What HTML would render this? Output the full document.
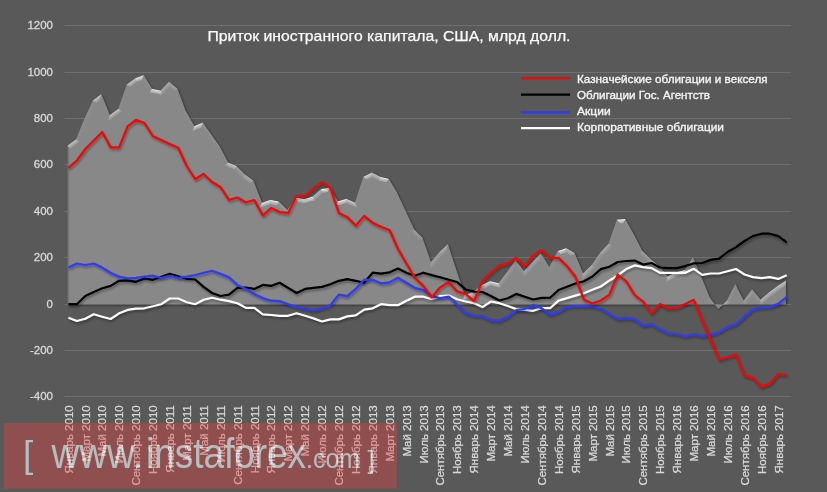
<!DOCTYPE html>
<html><head><meta charset="utf-8"><style>
html,body{margin:0;padding:0;background:#595959;width:827px;height:492px;overflow:hidden}
svg{display:block;font-family:"Liberation Sans",sans-serif;will-change:transform}
</style></head><body>
<svg width="827" height="492" viewBox="0 0 827 492">
<defs><filter id="ashadow" x="-5%" y="-10%" width="110%" height="125%" color-interpolation-filters="sRGB">
  <feGaussianBlur in="SourceAlpha" stdDeviation="1.3"/>
  <feOffset dx="1" dy="1.2" result="ob"/>
  <feFlood flood-color="#000" flood-opacity="0.45"/>
  <feComposite in2="ob" operator="in" result="sh"/>
  <feMerge><feMergeNode in="sh"/><feMergeNode in="SourceGraphic"/></feMerge>
</filter>
<filter id="soft" x="-5%" y="-10%" width="110%" height="125%">
  <feGaussianBlur stdDeviation="0.55"/>
</filter>
<filter id="lshadow" x="-5%" y="-20%" width="110%" height="140%" color-interpolation-filters="sRGB">
  <feGaussianBlur in="SourceAlpha" stdDeviation="1.2"/>
  <feOffset dx="0.8" dy="1.5" result="ob"/>
  <feFlood flood-color="#000" flood-opacity="0.35"/>
  <feComposite in2="ob" operator="in" result="sh"/>
  <feMerge><feMergeNode in="sh"/><feMergeNode in="SourceGraphic"/></feMerge>
</filter>
<filter id="thin" x="-2%" y="-10%" width="104%" height="120%">
  <feMorphology operator="erode" radius="0.4"/>
</filter>
</defs>
<rect width="827" height="492" fill="#595959"/>
<line x1="64.5" x2="791" y1="25.5" y2="25.5" stroke="#707070" stroke-width="1"/>
<line x1="64.5" x2="791" y1="72.5" y2="72.5" stroke="#707070" stroke-width="1"/>
<line x1="64.5" x2="791" y1="118.5" y2="118.5" stroke="#707070" stroke-width="1"/>
<line x1="64.5" x2="791" y1="164.5" y2="164.5" stroke="#707070" stroke-width="1"/>
<line x1="64.5" x2="791" y1="211.5" y2="211.5" stroke="#707070" stroke-width="1"/>
<line x1="64.5" x2="791" y1="257.5" y2="257.5" stroke="#707070" stroke-width="1"/>
<line x1="64.5" x2="791" y1="304.5" y2="304.5" stroke="#707070" stroke-width="1"/>
<line x1="64.5" x2="791" y1="350.5" y2="350.5" stroke="#707070" stroke-width="1"/>
<line x1="64.5" x2="791" y1="396.5" y2="396.5" stroke="#707070" stroke-width="1"/>
<g filter="url(#ashadow)"><polygon points="67.60,304.40 67.60,145.40 76.05,139.30 84.50,118.50 92.95,100.20 101.40,94.10 109.86,114.90 118.31,108.80 126.76,84.40 135.21,78.30 143.66,75.10 152.11,88.80 160.56,90.50 169.01,81.50 177.46,88.80 185.91,111.20 194.37,126.00 202.82,122.50 211.27,134.40 219.72,146.60 228.17,162.40 236.62,166.10 245.07,174.60 253.52,180.70 261.97,202.70 270.42,199.80 278.88,201.50 287.33,210.00 295.78,197.50 304.23,199.00 312.68,196.60 321.13,189.00 329.58,187.80 338.03,201.20 346.48,198.80 354.93,202.40 363.39,176.80 371.84,172.40 380.29,176.80 388.74,178.80 397.19,192.70 405.64,211.00 414.09,229.30 422.54,237.80 430.99,262.00 439.44,252.00 447.90,244.00 456.35,270.00 464.80,295.00 473.25,292.00 481.70,285.00 490.15,281.00 498.60,283.00 507.05,272.00 515.50,260.00 523.95,271.00 532.41,262.00 540.86,253.00 549.31,267.00 557.76,251.00 566.21,248.00 574.66,253.00 583.11,273.20 591.56,265.00 600.01,252.80 608.46,243.70 616.92,219.50 625.37,219.00 633.82,234.60 642.27,250.80 650.72,259.00 659.17,266.10 667.62,276.20 676.07,272.20 684.52,270.10 692.97,257.20 701.43,277.00 709.88,297.80 718.33,309.00 726.78,300.50 735.23,284.00 743.68,300.50 752.13,289.20 760.58,299.60 769.03,292.30 777.48,285.90 785.94,280.40 785.94,304.40" fill="#888888"/></g>
<clipPath id="aclip"><polygon points="67.60,304.40 67.60,145.40 76.05,139.30 84.50,118.50 92.95,100.20 101.40,94.10 109.86,114.90 118.31,108.80 126.76,84.40 135.21,78.30 143.66,75.10 152.11,88.80 160.56,90.50 169.01,81.50 177.46,88.80 185.91,111.20 194.37,126.00 202.82,122.50 211.27,134.40 219.72,146.60 228.17,162.40 236.62,166.10 245.07,174.60 253.52,180.70 261.97,202.70 270.42,199.80 278.88,201.50 287.33,210.00 295.78,197.50 304.23,199.00 312.68,196.60 321.13,189.00 329.58,187.80 338.03,201.20 346.48,198.80 354.93,202.40 363.39,176.80 371.84,172.40 380.29,176.80 388.74,178.80 397.19,192.70 405.64,211.00 414.09,229.30 422.54,237.80 430.99,262.00 439.44,252.00 447.90,244.00 456.35,270.00 464.80,295.00 473.25,292.00 481.70,285.00 490.15,281.00 498.60,283.00 507.05,272.00 515.50,260.00 523.95,271.00 532.41,262.00 540.86,253.00 549.31,267.00 557.76,251.00 566.21,248.00 574.66,253.00 583.11,273.20 591.56,265.00 600.01,252.80 608.46,243.70 616.92,219.50 625.37,219.00 633.82,234.60 642.27,250.80 650.72,259.00 659.17,266.10 667.62,276.20 676.07,272.20 684.52,270.10 692.97,257.20 701.43,277.00 709.88,297.80 718.33,309.00 726.78,300.50 735.23,284.00 743.68,300.50 752.13,289.20 760.58,299.60 769.03,292.30 777.48,285.90 785.94,280.40 785.94,304.40"/></clipPath>
<g clip-path="url(#aclip)" filter="url(#soft)"><polygon points="67.60,145.40 76.05,139.30 77.14,140.16 68.38,146.48" fill="rgba(255,255,255,0.455)"/><polygon points="76.05,139.30 84.50,118.50 85.73,119.03 77.14,140.16" fill="rgba(255,255,255,0.035)"/><polygon points="84.50,118.50 92.95,100.20 94.02,101.08 85.73,119.03" fill="rgba(255,255,255,0.049)"/><polygon points="92.95,100.20 101.40,94.10 100.81,96.17 94.02,101.08" fill="rgba(255,255,255,0.455)"/><polygon points="109.86,114.90 118.31,108.80 119.43,109.63 109.26,116.97" fill="rgba(255,255,255,0.455)"/><polygon points="118.31,108.80 126.76,84.40 127.88,85.23 119.43,109.63" fill="rgba(255,255,255,0.022)"/><polygon points="126.76,84.40 135.21,78.30 135.85,79.48 127.88,85.23" fill="rgba(255,255,255,0.455)"/><polygon points="135.21,78.30 143.66,75.10 143.10,76.74 135.85,79.48" fill="rgba(255,255,255,0.724)"/><polygon points="143.66,75.10 152.11,88.80 151.28,89.99 143.10,76.74" fill="rgba(255,255,255,0.037)"/><polygon points="152.11,88.80 160.56,90.50 161.03,91.95 151.28,89.99" fill="rgba(255,255,255,0.727)"/><polygon points="160.56,90.50 169.01,81.50 169.11,83.35 161.03,91.95" fill="rgba(255,255,255,0.256)"/><polygon points="169.01,81.50 177.46,88.80 176.34,89.59 169.11,83.35" fill="rgba(255,255,255,0.207)"/><polygon points="185.91,111.20 194.37,126.00 193.79,127.68 184.70,111.77" fill="rgba(255,255,255,0.028)"/><polygon points="194.37,126.00 202.82,122.50 202.34,124.14 193.79,127.68" fill="rgba(255,255,255,0.697)"/><polygon points="202.82,122.50 211.27,134.40 210.18,135.17 202.34,124.14" fill="rgba(255,255,255,0.058)"/><polygon points="211.27,134.40 219.72,146.60 218.58,147.30 210.18,135.17" fill="rgba(255,255,255,0.054)"/><polygon points="219.72,146.60 228.17,162.40 227.21,163.44 218.58,147.30" fill="rgba(255,255,255,0.022)"/><polygon points="228.17,162.40 236.62,166.10 235.85,167.22 227.21,163.44" fill="rgba(255,255,255,0.513)"/><polygon points="236.62,166.10 245.07,174.60 244.20,175.62 235.85,167.22" fill="rgba(255,255,255,0.148)"/><polygon points="245.07,174.60 253.52,180.70 252.42,181.55 244.20,175.62" fill="rgba(255,255,255,0.286)"/><polygon points="261.97,202.70 270.42,199.80 270.52,201.18 261.19,204.38" fill="rgba(255,255,255,0.749)"/><polygon points="270.42,199.80 278.88,201.50 278.22,202.73 270.52,201.18" fill="rgba(255,255,255,0.727)"/><polygon points="278.88,201.50 287.33,210.00 287.52,212.09 278.22,202.73" fill="rgba(255,255,255,0.148)"/><polygon points="287.33,210.00 295.78,197.50 296.40,198.96 287.52,212.09" fill="rgba(255,255,255,0.129)"/><polygon points="295.78,197.50 304.23,199.00 304.30,200.37 296.40,198.96" fill="rgba(255,255,255,0.745)"/><polygon points="304.23,199.00 312.68,196.60 313.34,197.80 304.30,200.37" fill="rgba(255,255,255,0.787)"/><polygon points="312.68,196.60 321.13,189.00 321.72,190.26 313.34,197.80" fill="rgba(255,255,255,0.339)"/><polygon points="321.13,189.00 329.58,187.80 328.91,189.24 321.72,190.26" fill="rgba(255,255,255,0.844)"/><polygon points="329.58,187.80 338.03,201.20 337.44,202.76 328.91,189.24" fill="rgba(255,255,255,0.039)"/><polygon points="338.03,201.20 346.48,198.80 346.39,200.21 337.44,202.76" fill="rgba(255,255,255,0.787)"/><polygon points="346.48,198.80 354.93,202.40 355.75,204.19 346.39,200.21" fill="rgba(255,255,255,0.524)"/><polygon points="354.93,202.40 363.39,176.80 364.48,177.73 355.75,204.19" fill="rgba(255,255,255,0.019)"/><polygon points="363.39,176.80 371.84,172.40 371.84,173.90 364.48,177.73" fill="rgba(255,255,255,0.612)"/><polygon points="371.84,172.40 380.29,176.80 379.82,178.06 371.84,173.90" fill="rgba(255,255,255,0.438)"/><polygon points="380.29,176.80 388.74,178.80 387.89,179.97 379.82,178.06" fill="rgba(255,255,255,0.698)"/><polygon points="388.74,178.80 397.19,192.70 396.01,193.33 387.89,179.97" fill="rgba(255,255,255,0.035)"/><polygon points="397.19,192.70 405.64,211.00 404.43,211.56 396.01,193.33" fill="rgba(255,255,255,0.012)"/><polygon points="405.64,211.00 414.09,229.30 412.98,230.07 404.43,211.56" fill="rgba(255,255,255,0.012)"/><polygon points="414.09,229.30 422.54,237.80 421.38,238.53 412.98,230.07" fill="rgba(255,255,255,0.148)"/><polygon points="430.99,262.00 439.44,252.00 440.41,252.92 430.51,264.60" fill="rgba(255,255,255,0.210)"/><polygon points="439.44,252.00 447.90,244.00 447.28,246.42 440.41,252.92" fill="rgba(255,255,255,0.313)"/><polygon points="464.80,295.00 473.25,292.00 473.92,293.18 463.97,296.71" fill="rgba(255,255,255,0.741)"/><polygon points="473.25,292.00 481.70,285.00 482.42,286.13 473.92,293.18" fill="rgba(255,255,255,0.382)"/><polygon points="481.70,285.00 490.15,281.00 490.30,282.41 482.42,286.13" fill="rgba(255,255,255,0.651)"/><polygon points="490.15,281.00 498.60,283.00 499.13,284.50 490.30,282.41" fill="rgba(255,255,255,0.698)"/><polygon points="498.60,283.00 507.05,272.00 508.13,272.79 499.13,284.50" fill="rgba(255,255,255,0.172)"/><polygon points="507.05,272.00 515.50,260.00 515.55,262.25 508.13,272.79" fill="rgba(255,255,255,0.142)"/><polygon points="515.50,260.00 523.95,271.00 523.85,273.06 515.55,262.25" fill="rgba(255,255,255,0.074)"/><polygon points="523.95,271.00 532.41,262.00 533.38,262.91 523.85,273.06" fill="rgba(255,255,255,0.256)"/><polygon points="532.41,262.00 540.86,253.00 540.62,255.20 533.38,262.91" fill="rgba(255,255,255,0.256)"/><polygon points="540.86,253.00 549.31,267.00 549.38,269.62 540.62,255.20" fill="rgba(255,255,255,0.034)"/><polygon points="549.31,267.00 557.76,251.00 558.69,252.08 549.38,269.62" fill="rgba(255,255,255,0.070)"/><polygon points="557.76,251.00 566.21,248.00 566.07,249.47 558.69,252.08" fill="rgba(255,255,255,0.741)"/><polygon points="566.21,248.00 574.66,253.00 573.60,253.92 566.07,249.47" fill="rgba(255,255,255,0.379)"/><polygon points="583.11,273.20 591.56,265.00 592.58,265.87 582.64,275.52" fill="rgba(255,255,255,0.301)"/><polygon points="591.56,265.00 600.01,252.80 601.05,253.64 592.58,265.87" fill="rgba(255,255,255,0.137)"/><polygon points="600.01,252.80 608.46,243.70 609.63,244.40 601.05,253.64" fill="rgba(255,255,255,0.251)"/><polygon points="608.46,243.70 616.92,219.50 617.88,220.78 609.63,244.40" fill="rgba(255,255,255,0.023)"/><polygon points="616.92,219.50 625.37,219.00 624.60,220.38 617.88,220.78" fill="rgba(255,255,255,0.850)"/><polygon points="625.37,219.00 633.82,234.60 632.64,235.23 624.60,220.38" fill="rgba(255,255,255,0.023)"/><polygon points="633.82,234.60 642.27,250.80 641.19,251.61 632.64,235.23" fill="rgba(255,255,255,0.020)"/><polygon points="642.27,250.80 650.72,259.00 649.82,259.99 641.19,251.61" fill="rgba(255,255,255,0.161)"/><polygon points="650.72,259.00 659.17,266.10 658.22,267.05 649.82,259.99" fill="rgba(255,255,255,0.218)"/><polygon points="659.17,266.10 667.62,276.20 667.26,277.85 658.22,267.05" fill="rgba(255,255,255,0.095)"/><polygon points="667.62,276.20 676.07,272.20 676.52,273.46 667.26,277.85" fill="rgba(255,255,255,0.651)"/><polygon points="676.07,272.20 684.52,270.10 685.35,271.27 676.52,273.46" fill="rgba(255,255,255,0.806)"/><polygon points="684.52,270.10 692.97,257.20 692.75,259.71 685.35,271.27" fill="rgba(255,255,255,0.120)"/><polygon points="709.88,297.80 718.33,309.00 718.19,311.03 708.71,298.46" fill="rgba(255,255,255,0.071)"/><polygon points="718.33,309.00 726.78,300.50 727.87,301.29 718.19,311.03" fill="rgba(255,255,255,0.283)"/><polygon points="726.78,300.50 735.23,284.00 735.23,286.43 727.87,301.29" fill="rgba(255,255,255,0.065)"/><polygon points="735.23,284.00 743.68,300.50 743.47,303.01 735.23,286.43" fill="rgba(255,255,255,0.018)"/><polygon points="743.68,300.50 752.13,289.20 752.17,291.37 743.47,303.01" fill="rgba(255,255,255,0.162)"/><polygon points="752.13,289.20 760.58,299.60 760.41,301.51 752.17,291.37" fill="rgba(255,255,255,0.088)"/><polygon points="760.58,299.60 769.03,292.30 769.87,293.34 760.41,301.51" fill="rgba(255,255,255,0.360)"/><polygon points="769.03,292.30 777.48,285.90 778.25,286.99 769.87,293.34" fill="rgba(255,255,255,0.429)"/><polygon points="777.48,285.90 785.94,280.40 786.66,281.52 778.25,286.99" fill="rgba(255,255,255,0.508)"/><polygon points="68.38,146.48 77.14,140.16 78.23,141.01 69.16,147.56" fill="rgba(255,255,255,0.321)"/><polygon points="77.14,140.16 85.73,119.03 86.95,119.56 78.23,141.01" fill="rgba(255,255,255,0.024)"/><polygon points="85.73,119.03 94.02,101.08 95.08,101.95 86.95,119.56" fill="rgba(255,255,255,0.035)"/><polygon points="94.02,101.08 100.81,96.17 100.21,98.25 95.08,101.95" fill="rgba(255,255,255,0.321)"/><polygon points="109.26,116.97 119.43,109.63 120.55,110.47 108.66,119.05" fill="rgba(255,255,255,0.321)"/><polygon points="119.43,109.63 127.88,85.23 129.00,86.07 120.55,110.47" fill="rgba(255,255,255,0.016)"/><polygon points="127.88,85.23 135.85,79.48 136.48,80.67 129.00,86.07" fill="rgba(255,255,255,0.321)"/><polygon points="135.85,79.48 143.10,76.74 142.54,78.37 136.48,80.67" fill="rgba(255,255,255,0.511)"/><polygon points="143.10,76.74 151.28,89.99 150.45,91.19 142.54,78.37" fill="rgba(255,255,255,0.026)"/><polygon points="151.28,89.99 161.03,91.95 161.49,93.41 150.45,91.19" fill="rgba(255,255,255,0.513)"/><polygon points="161.03,91.95 169.11,83.35 169.20,85.19 161.49,93.41" fill="rgba(255,255,255,0.181)"/><polygon points="169.11,83.35 176.34,89.59 175.21,90.38 169.20,85.19" fill="rgba(255,255,255,0.146)"/><polygon points="184.70,111.77 193.79,127.68 193.21,129.36 183.49,112.34" fill="rgba(255,255,255,0.020)"/><polygon points="193.79,127.68 202.34,124.14 201.87,125.78 193.21,129.36" fill="rgba(255,255,255,0.492)"/><polygon points="202.34,124.14 210.18,135.17 209.08,135.93 201.87,125.78" fill="rgba(255,255,255,0.041)"/><polygon points="210.18,135.17 218.58,147.30 217.44,147.99 209.08,135.93" fill="rgba(255,255,255,0.038)"/><polygon points="218.58,147.30 227.21,163.44 226.25,164.47 217.44,147.99" fill="rgba(255,255,255,0.015)"/><polygon points="227.21,163.44 235.85,167.22 235.09,168.34 226.25,164.47" fill="rgba(255,255,255,0.362)"/><polygon points="235.85,167.22 244.20,175.62 243.33,176.63 235.09,168.34" fill="rgba(255,255,255,0.105)"/><polygon points="244.20,175.62 252.42,181.55 251.32,182.40 243.33,176.63" fill="rgba(255,255,255,0.202)"/><polygon points="261.19,204.38 270.52,201.18 270.61,202.56 260.41,206.06" fill="rgba(255,255,255,0.529)"/><polygon points="270.52,201.18 278.22,202.73 277.56,203.95 270.61,202.56" fill="rgba(255,255,255,0.513)"/><polygon points="278.22,202.73 287.52,212.09 287.72,214.18 277.56,203.95" fill="rgba(255,255,255,0.105)"/><polygon points="287.52,212.09 296.40,198.96 297.02,200.43 287.72,214.18" fill="rgba(255,255,255,0.091)"/><polygon points="296.40,198.96 304.30,200.37 304.37,201.73 297.02,200.43" fill="rgba(255,255,255,0.526)"/><polygon points="304.30,200.37 313.34,197.80 314.00,199.00 304.37,201.73" fill="rgba(255,255,255,0.556)"/><polygon points="313.34,197.80 321.72,190.26 322.31,191.53 314.00,199.00" fill="rgba(255,255,255,0.239)"/><polygon points="321.72,190.26 328.91,189.24 328.25,190.68 322.31,191.53" fill="rgba(255,255,255,0.596)"/><polygon points="328.91,189.24 337.44,202.76 336.84,204.31 328.25,190.68" fill="rgba(255,255,255,0.028)"/><polygon points="337.44,202.76 346.39,200.21 346.30,201.62 336.84,204.31" fill="rgba(255,255,255,0.556)"/><polygon points="346.39,200.21 355.75,204.19 356.56,205.99 346.30,201.62" fill="rgba(255,255,255,0.370)"/><polygon points="355.75,204.19 364.48,177.73 365.58,178.66 356.56,205.99" fill="rgba(255,255,255,0.014)"/><polygon points="364.48,177.73 371.84,173.90 371.84,175.41 365.58,178.66" fill="rgba(255,255,255,0.432)"/><polygon points="371.84,173.90 379.82,178.06 379.35,179.32 371.84,175.41" fill="rgba(255,255,255,0.309)"/><polygon points="379.82,178.06 387.89,179.97 387.04,181.14 379.35,179.32" fill="rgba(255,255,255,0.492)"/><polygon points="387.89,179.97 396.01,193.33 394.83,193.96 387.04,181.14" fill="rgba(255,255,255,0.025)"/><polygon points="412.98,230.07 421.38,238.53 420.22,239.25 411.87,230.85" fill="rgba(255,255,255,0.105)"/><polygon points="430.51,264.60 440.41,252.92 441.38,253.83 430.03,267.20" fill="rgba(255,255,255,0.148)"/><polygon points="440.41,252.92 447.28,246.42 446.66,248.84 441.38,253.83" fill="rgba(255,255,255,0.221)"/><polygon points="463.97,296.71 473.92,293.18 474.59,294.35 463.14,298.42" fill="rgba(255,255,255,0.523)"/><polygon points="473.92,293.18 482.42,286.13 483.14,287.27 474.59,294.35" fill="rgba(255,255,255,0.270)"/><polygon points="482.42,286.13 490.30,282.41 490.45,283.81 483.14,287.27" fill="rgba(255,255,255,0.459)"/><polygon points="490.30,282.41 499.13,284.50 499.67,285.99 490.45,283.81" fill="rgba(255,255,255,0.492)"/><polygon points="499.13,284.50 508.13,272.79 509.20,273.58 499.67,285.99" fill="rgba(255,255,255,0.122)"/><polygon points="508.13,272.79 515.55,262.25 515.60,264.50 509.20,273.58" fill="rgba(255,255,255,0.100)"/><polygon points="515.55,262.25 523.85,273.06 523.75,275.11 515.60,264.50" fill="rgba(255,255,255,0.053)"/><polygon points="523.85,273.06 533.38,262.91 534.35,263.83 523.75,275.11" fill="rgba(255,255,255,0.181)"/><polygon points="533.38,262.91 540.62,255.20 540.39,257.39 534.35,263.83" fill="rgba(255,255,255,0.181)"/><polygon points="540.62,255.20 549.38,269.62 549.46,272.25 540.39,257.39" fill="rgba(255,255,255,0.024)"/><polygon points="549.38,269.62 558.69,252.08 559.63,253.17 549.46,272.25" fill="rgba(255,255,255,0.050)"/><polygon points="558.69,252.08 566.07,249.47 565.93,250.93 559.63,253.17" fill="rgba(255,255,255,0.523)"/><polygon points="566.07,249.47 573.60,253.92 572.54,254.84 565.93,250.93" fill="rgba(255,255,255,0.268)"/><polygon points="582.64,275.52 592.58,265.87 593.61,266.73 582.16,277.84" fill="rgba(255,255,255,0.212)"/><polygon points="592.58,265.87 601.05,253.64 602.10,254.48 593.61,266.73" fill="rgba(255,255,255,0.097)"/><polygon points="601.05,253.64 609.63,244.40 610.80,245.11 602.10,254.48" fill="rgba(255,255,255,0.177)"/><polygon points="609.63,244.40 617.88,220.78 618.85,222.06 610.80,245.11" fill="rgba(255,255,255,0.016)"/><polygon points="617.88,220.78 624.60,220.38 623.83,221.76 618.85,222.06" fill="rgba(255,255,255,0.600)"/><polygon points="624.60,220.38 632.64,235.23 631.46,235.85 623.83,221.76" fill="rgba(255,255,255,0.016)"/><polygon points="632.64,235.23 641.19,251.61 640.10,252.41 631.46,235.85" fill="rgba(255,255,255,0.014)"/><polygon points="641.19,251.61 649.82,259.99 648.93,260.98 640.10,252.41" fill="rgba(255,255,255,0.114)"/><polygon points="649.82,259.99 658.22,267.05 657.28,267.99 648.93,260.98" fill="rgba(255,255,255,0.154)"/><polygon points="658.22,267.05 667.26,277.85 666.90,279.49 657.28,267.99" fill="rgba(255,255,255,0.067)"/><polygon points="667.26,277.85 676.52,273.46 676.97,274.72 666.90,279.49" fill="rgba(255,255,255,0.459)"/><polygon points="676.52,273.46 685.35,271.27 686.18,272.44 676.97,274.72" fill="rgba(255,255,255,0.569)"/><polygon points="685.35,271.27 692.75,259.71 692.53,262.22 686.18,272.44" fill="rgba(255,255,255,0.085)"/><polygon points="708.71,298.46 718.19,311.03 718.05,313.06 707.54,299.13" fill="rgba(255,255,255,0.050)"/><polygon points="718.19,311.03 727.87,301.29 728.96,302.09 718.05,313.06" fill="rgba(255,255,255,0.200)"/><polygon points="727.87,301.29 735.23,286.43 735.23,288.86 728.96,302.09" fill="rgba(255,255,255,0.046)"/><polygon points="735.23,286.43 743.47,303.01 743.26,305.52 735.23,288.86" fill="rgba(255,255,255,0.013)"/><polygon points="743.47,303.01 752.17,291.37 752.22,293.54 743.26,305.52" fill="rgba(255,255,255,0.115)"/><polygon points="752.17,291.37 760.41,301.51 760.25,303.41 752.22,293.54" fill="rgba(255,255,255,0.062)"/><polygon points="760.41,301.51 769.87,293.34 770.71,294.37 760.25,303.41" fill="rgba(255,255,255,0.254)"/><polygon points="769.87,293.34 778.25,286.99 779.02,288.08 770.71,294.37" fill="rgba(255,255,255,0.303)"/><polygon points="778.25,286.99 786.66,281.52 787.39,282.64 779.02,288.08" fill="rgba(255,255,255,0.359)"/><polygon points="69.16,147.56 78.23,141.01 79.32,141.87 69.94,148.64" fill="rgba(255,255,255,0.187)"/><polygon points="78.23,141.01 86.95,119.56 88.17,120.09 79.32,141.87" fill="rgba(255,255,255,0.014)"/><polygon points="86.95,119.56 95.08,101.95 96.14,102.83 88.17,120.09" fill="rgba(255,255,255,0.020)"/><polygon points="95.08,101.95 100.21,98.25 99.62,100.32 96.14,102.83" fill="rgba(255,255,255,0.187)"/><polygon points="108.66,119.05 120.55,110.47 121.67,111.30 108.07,121.12" fill="rgba(255,255,255,0.187)"/><polygon points="129.00,86.07 136.48,80.67 137.12,81.85 130.12,86.90" fill="rgba(255,255,255,0.187)"/><polygon points="136.48,80.67 142.54,78.37 141.99,80.01 137.12,81.85" fill="rgba(255,255,255,0.298)"/><polygon points="142.54,78.37 150.45,91.19 149.62,92.38 141.99,80.01" fill="rgba(255,255,255,0.015)"/><polygon points="150.45,91.19 161.49,93.41 161.95,94.86 149.62,92.38" fill="rgba(255,255,255,0.299)"/><polygon points="161.49,93.41 169.20,85.19 169.30,87.04 161.95,94.86" fill="rgba(255,255,255,0.105)"/><polygon points="169.20,85.19 175.21,90.38 174.08,91.16 169.30,87.04" fill="rgba(255,255,255,0.085)"/><polygon points="183.49,112.34 193.21,129.36 192.64,131.04 182.28,112.91" fill="rgba(255,255,255,0.011)"/><polygon points="193.21,129.36 201.87,125.78 201.40,127.42 192.64,131.04" fill="rgba(255,255,255,0.287)"/><polygon points="201.87,125.78 209.08,135.93 207.99,136.70 201.40,127.42" fill="rgba(255,255,255,0.024)"/><polygon points="209.08,135.93 217.44,147.99 216.30,148.69 207.99,136.70" fill="rgba(255,255,255,0.022)"/><polygon points="226.25,164.47 235.09,168.34 234.32,169.46 225.30,165.51" fill="rgba(255,255,255,0.211)"/><polygon points="235.09,168.34 243.33,176.63 242.46,177.65 234.32,169.46" fill="rgba(255,255,255,0.061)"/><polygon points="243.33,176.63 251.32,182.40 250.22,183.25 242.46,177.65" fill="rgba(255,255,255,0.118)"/><polygon points="260.41,206.06 270.61,202.56 270.70,203.94 259.62,207.74" fill="rgba(255,255,255,0.309)"/><polygon points="270.61,202.56 277.56,203.95 276.90,205.18 270.70,203.94" fill="rgba(255,255,255,0.299)"/><polygon points="277.56,203.95 287.72,214.18 287.92,216.27 276.90,205.18" fill="rgba(255,255,255,0.061)"/><polygon points="287.72,214.18 297.02,200.43 297.64,201.89 287.92,216.27" fill="rgba(255,255,255,0.053)"/><polygon points="297.02,200.43 304.37,201.73 304.44,203.10 297.64,201.89" fill="rgba(255,255,255,0.307)"/><polygon points="304.37,201.73 314.00,199.00 314.66,200.19 304.44,203.10" fill="rgba(255,255,255,0.324)"/><polygon points="314.00,199.00 322.31,191.53 322.90,192.79 314.66,200.19" fill="rgba(255,255,255,0.140)"/><polygon points="322.31,191.53 328.25,190.68 327.58,192.12 322.90,192.79" fill="rgba(255,255,255,0.348)"/><polygon points="328.25,190.68 336.84,204.31 336.25,205.87 327.58,192.12" fill="rgba(255,255,255,0.016)"/><polygon points="336.84,204.31 346.30,201.62 346.22,203.03 336.25,205.87" fill="rgba(255,255,255,0.324)"/><polygon points="346.30,201.62 356.56,205.99 357.37,207.78 346.22,203.03" fill="rgba(255,255,255,0.216)"/><polygon points="365.58,178.66 371.84,175.41 371.84,176.91 366.67,179.60" fill="rgba(255,255,255,0.252)"/><polygon points="371.84,175.41 379.35,179.32 378.88,180.58 371.84,176.91" fill="rgba(255,255,255,0.180)"/><polygon points="379.35,179.32 387.04,181.14 386.19,182.31 378.88,180.58" fill="rgba(255,255,255,0.287)"/><polygon points="387.04,181.14 394.83,193.96 393.65,194.58 386.19,182.31" fill="rgba(255,255,255,0.014)"/><polygon points="411.87,230.85 420.22,239.25 419.07,239.98 410.76,231.62" fill="rgba(255,255,255,0.061)"/><polygon points="430.03,267.20 441.38,253.83 442.36,254.75 429.55,269.80" fill="rgba(255,255,255,0.086)"/><polygon points="441.38,253.83 446.66,248.84 446.05,251.26 442.36,254.75" fill="rgba(255,255,255,0.129)"/><polygon points="463.14,298.42 474.59,294.35 475.25,295.53 462.31,300.13" fill="rgba(255,255,255,0.305)"/><polygon points="474.59,294.35 483.14,287.27 483.86,288.40 475.25,295.53" fill="rgba(255,255,255,0.157)"/><polygon points="483.14,287.27 490.45,283.81 490.59,285.22 483.86,288.40" fill="rgba(255,255,255,0.268)"/><polygon points="490.45,283.81 499.67,285.99 500.20,287.49 490.59,285.22" fill="rgba(255,255,255,0.287)"/><polygon points="499.67,285.99 509.20,273.58 510.27,274.37 500.20,287.49" fill="rgba(255,255,255,0.071)"/><polygon points="509.20,273.58 515.60,264.50 515.64,266.75 510.27,274.37" fill="rgba(255,255,255,0.059)"/><polygon points="515.60,264.50 523.75,275.11 523.65,277.17 515.64,266.75" fill="rgba(255,255,255,0.031)"/><polygon points="523.75,275.11 534.35,263.83 535.32,264.74 523.65,277.17" fill="rgba(255,255,255,0.105)"/><polygon points="534.35,263.83 540.39,257.39 540.16,259.59 535.32,264.74" fill="rgba(255,255,255,0.105)"/><polygon points="540.39,257.39 549.46,272.25 549.53,274.87 540.16,259.59" fill="rgba(255,255,255,0.014)"/><polygon points="549.46,272.25 559.63,253.17 560.57,254.25 549.53,274.87" fill="rgba(255,255,255,0.029)"/><polygon points="559.63,253.17 565.93,250.93 565.78,252.40 560.57,254.25" fill="rgba(255,255,255,0.305)"/><polygon points="565.93,250.93 572.54,254.84 571.48,255.77 565.78,252.40" fill="rgba(255,255,255,0.156)"/><polygon points="582.16,277.84 593.61,266.73 594.63,267.60 581.69,280.16" fill="rgba(255,255,255,0.124)"/><polygon points="593.61,266.73 602.10,254.48 603.14,255.31 594.63,267.60" fill="rgba(255,255,255,0.056)"/><polygon points="602.10,254.48 610.80,245.11 611.96,245.81 603.14,255.31" fill="rgba(255,255,255,0.103)"/><polygon points="618.85,222.06 623.83,221.76 623.06,223.14 619.81,223.34" fill="rgba(255,255,255,0.350)"/><polygon points="640.10,252.41 648.93,260.98 648.04,261.97 639.02,253.22" fill="rgba(255,255,255,0.066)"/><polygon points="648.93,260.98 657.28,267.99 656.33,268.94 648.04,261.97" fill="rgba(255,255,255,0.090)"/><polygon points="657.28,267.99 666.90,279.49 666.54,281.14 656.33,268.94" fill="rgba(255,255,255,0.039)"/><polygon points="666.90,279.49 676.97,274.72 677.42,275.99 666.54,281.14" fill="rgba(255,255,255,0.268)"/><polygon points="676.97,274.72 686.18,272.44 687.01,273.60 677.42,275.99" fill="rgba(255,255,255,0.332)"/><polygon points="686.18,272.44 692.53,262.22 692.31,264.72 687.01,273.60" fill="rgba(255,255,255,0.050)"/><polygon points="707.54,299.13 718.05,313.06 717.91,315.09 706.37,299.79" fill="rgba(255,255,255,0.029)"/><polygon points="718.05,313.06 728.96,302.09 730.05,302.88 717.91,315.09" fill="rgba(255,255,255,0.117)"/><polygon points="728.96,302.09 735.23,288.86 735.23,291.29 730.05,302.88" fill="rgba(255,255,255,0.027)"/><polygon points="743.26,305.52 752.22,293.54 752.26,295.70 743.04,308.03" fill="rgba(255,255,255,0.067)"/><polygon points="752.22,293.54 760.25,303.41 760.08,305.32 752.26,295.70" fill="rgba(255,255,255,0.036)"/><polygon points="760.25,303.41 770.71,294.37 771.55,295.41 760.08,305.32" fill="rgba(255,255,255,0.148)"/><polygon points="770.71,294.37 779.02,288.08 779.79,289.17 771.55,295.41" fill="rgba(255,255,255,0.177)"/><polygon points="779.02,288.08 787.39,282.64 788.12,283.75 779.79,289.17" fill="rgba(255,255,255,0.209)"/></g>
<rect x="67.60" y="147.40" width="1.6" height="157.00" fill="rgba(0,0,0,0.12)" clip-path="url(#aclip)"/>
<polyline points="68.40,304.20 76.85,304.20 85.30,296.00 93.75,292.00 102.20,288.30 110.66,285.90 119.11,280.80 127.56,280.40 136.01,281.80 144.46,278.40 152.91,279.80 161.36,276.70 169.81,273.70 178.26,276.30 186.71,278.80 195.17,279.50 203.62,286.90 212.07,293.00 220.52,296.00 228.97,294.60 237.42,287.90 245.87,287.50 254.32,288.90 262.77,284.90 271.22,285.90 279.68,282.80 288.13,287.90 296.58,293.00 305.03,288.90 313.48,287.90 321.93,286.90 330.38,284.20 338.83,280.80 347.28,279.20 355.73,280.80 364.19,282.80 372.64,272.70 381.09,273.70 389.54,272.30 397.99,268.60 406.44,272.70 414.89,275.70 423.34,272.70 431.79,275.10 440.24,277.20 448.70,279.70 457.15,282.00 465.60,289.50 474.05,291.60 482.50,292.00 490.95,296.00 499.40,300.50 507.85,298.30 516.30,293.90 524.75,296.70 533.21,299.50 541.66,297.90 550.11,297.70 558.56,290.00 567.01,286.80 575.46,283.50 583.91,281.20 592.36,276.50 600.81,269.10 609.26,266.70 617.72,262.00 626.17,261.00 634.62,260.60 643.07,264.60 651.52,263.00 659.97,267.50 668.42,268.10 676.87,268.10 685.32,266.10 693.77,263.30 702.23,263.00 710.68,259.90 719.13,258.70 727.58,252.00 736.03,247.10 744.48,241.00 752.93,236.10 761.38,233.70 769.83,233.70 778.28,236.10 786.74,242.30" fill="none" stroke="#000000" stroke-width="2.2" stroke-linejoin="round" filter="url(#lshadow)"/>
<polyline points="68.40,317.80 76.85,321.00 85.30,318.80 93.75,314.30 102.20,316.80 110.66,319.00 119.11,313.30 127.56,309.90 136.01,308.70 144.46,308.30 152.91,306.20 161.36,304.20 169.81,298.50 178.26,298.50 186.71,302.20 195.17,304.20 203.62,299.70 212.07,297.70 220.52,299.70 228.97,301.10 237.42,303.20 245.87,307.80 254.32,307.80 262.77,314.30 271.22,315.00 279.68,315.80 288.13,315.80 296.58,313.30 305.03,315.80 313.48,318.40 321.93,321.50 330.38,319.40 338.83,319.40 347.28,316.40 355.73,315.40 364.19,309.70 372.64,308.30 381.09,304.20 389.54,305.20 397.99,305.20 406.44,300.70 414.89,296.70 423.34,296.70 431.79,299.10 440.24,296.10 448.70,295.50 457.15,299.20 465.60,301.50 474.05,303.20 482.50,307.10 490.95,301.50 499.40,303.20 507.85,306.00 516.30,309.10 524.75,310.00 533.21,310.80 541.66,308.20 550.11,308.20 558.56,300.60 567.01,298.10 575.46,295.60 583.91,293.20 592.36,289.80 600.81,286.50 609.26,280.70 617.72,275.40 626.17,269.10 634.62,265.40 643.07,267.10 651.52,268.10 659.97,272.80 668.42,272.80 676.87,272.80 685.32,272.80 693.77,268.80 702.23,274.80 710.68,273.50 719.13,273.50 727.58,271.20 736.03,269.00 744.48,274.50 752.93,277.10 761.38,278.20 769.83,277.10 778.28,278.90 786.74,275.30" fill="none" stroke="#ffffff" stroke-width="2.2" stroke-linejoin="round" filter="url(#lshadow)"/>
<polyline points="68.40,267.60 76.85,263.50 85.30,265.00 93.75,263.50 102.20,267.60 110.66,272.70 119.11,276.70 127.56,278.40 136.01,277.80 144.46,276.70 152.91,275.70 161.36,277.80 169.81,275.70 178.26,277.80 186.71,276.70 195.17,275.00 203.62,272.70 212.07,270.70 220.52,273.70 228.97,277.20 237.42,284.90 245.87,288.90 254.32,294.00 262.77,298.10 271.22,300.70 279.68,301.10 288.13,304.20 296.58,306.80 305.03,308.30 313.48,310.30 321.93,308.00 330.38,305.20 338.83,294.60 347.28,296.10 355.73,288.90 364.19,279.80 372.64,279.80 381.09,283.30 389.54,282.40 397.99,277.80 406.44,282.80 414.89,287.90 423.34,290.00 431.79,296.10 440.24,298.10 448.70,296.50 457.15,304.60 465.60,312.80 474.05,315.50 482.50,315.90 490.95,320.10 499.40,320.60 507.85,316.70 516.30,310.00 524.75,309.10 533.21,304.90 541.66,308.20 550.11,314.50 558.56,311.60 567.01,306.60 575.46,306.00 583.91,305.90 592.36,306.20 600.81,308.20 609.26,313.70 617.72,318.80 626.17,317.80 634.62,318.80 643.07,325.30 651.52,323.90 659.97,328.90 668.42,333.00 676.87,334.00 685.32,336.10 693.77,334.20 702.23,335.90 710.68,334.70 719.13,332.00 727.58,326.90 736.03,324.00 744.48,316.40 752.93,309.00 761.38,307.40 769.83,306.80 778.28,303.90 786.74,296.80" fill="none" stroke="#2b3bff" stroke-width="2.2" stroke-linejoin="round" filter="url(#lshadow)"/>
<polyline points="68.40,167.80 76.85,160.50 85.30,149.00 93.75,140.50 102.20,132.00 110.66,147.30 119.11,147.30 127.56,126.30 136.01,119.80 144.46,123.00 152.91,136.00 161.36,140.00 169.81,144.00 178.26,147.80 186.71,166.00 195.17,179.00 203.62,174.00 212.07,182.00 220.52,187.00 228.97,199.80 237.42,197.50 245.87,202.20 254.32,200.00 262.77,215.40 271.22,208.00 279.68,212.00 288.13,212.90 296.58,195.90 305.03,195.90 313.48,188.50 321.93,182.00 330.38,188.00 338.83,212.90 347.28,217.00 355.73,225.60 364.19,215.90 372.64,222.70 381.09,226.80 389.54,230.00 397.99,249.00 406.44,263.50 414.89,277.80 423.34,285.90 431.79,297.10 440.24,287.30 448.70,281.80 457.15,291.30 465.60,293.90 474.05,301.10 482.50,280.80 490.95,272.50 499.40,265.60 507.85,263.20 516.30,257.90 524.75,266.00 533.21,255.30 541.66,249.80 550.11,257.90 558.56,257.90 567.01,266.00 575.46,276.80 583.91,299.60 592.36,303.40 600.81,300.50 609.26,294.80 617.72,274.50 626.17,281.20 634.62,294.80 643.07,301.50 651.52,313.10 659.97,304.10 668.42,308.20 676.87,307.60 685.32,304.10 693.77,299.80 702.23,320.00 710.68,339.50 719.13,359.50 727.58,357.00 736.03,354.40 744.48,375.40 752.93,377.60 761.38,386.60 769.83,383.40 778.28,373.80 786.74,375.00" fill="none" stroke="#ff0000" stroke-width="2.2" stroke-linejoin="round" filter="url(#lshadow)"/>
<text x="53" y="29.4" text-anchor="end" font-size="11.5" fill="#d9d9d9" stroke="#d9d9d9" stroke-width="0.3">1200</text>
<text x="53" y="75.7" text-anchor="end" font-size="11.5" fill="#d9d9d9" stroke="#d9d9d9" stroke-width="0.3">1000</text>
<text x="53" y="122.1" text-anchor="end" font-size="11.5" fill="#d9d9d9" stroke="#d9d9d9" stroke-width="0.3">800</text>
<text x="53" y="168.4" text-anchor="end" font-size="11.5" fill="#d9d9d9" stroke="#d9d9d9" stroke-width="0.3">600</text>
<text x="53" y="214.8" text-anchor="end" font-size="11.5" fill="#d9d9d9" stroke="#d9d9d9" stroke-width="0.3">400</text>
<text x="53" y="261.1" text-anchor="end" font-size="11.5" fill="#d9d9d9" stroke="#d9d9d9" stroke-width="0.3">200</text>
<text x="53" y="307.5" text-anchor="end" font-size="11.5" fill="#d9d9d9" stroke="#d9d9d9" stroke-width="0.3">0</text>
<text x="53" y="353.9" text-anchor="end" font-size="11.5" fill="#d9d9d9" stroke="#d9d9d9" stroke-width="0.3">-200</text>
<text x="53" y="400.2" text-anchor="end" font-size="11.5" fill="#d9d9d9" stroke="#d9d9d9" stroke-width="0.3">-400</text>
<text transform="translate(72.6,405.3) rotate(-90)" text-anchor="end" font-size="11.5" fill="#d9d9d9" stroke="#d9d9d9" stroke-width="0.25">Январь 2010</text>
<text transform="translate(89.5,405.3) rotate(-90)" text-anchor="end" font-size="11.5" fill="#d9d9d9" stroke="#d9d9d9" stroke-width="0.25">Март 2010</text>
<text transform="translate(106.4,405.3) rotate(-90)" text-anchor="end" font-size="11.5" fill="#d9d9d9" stroke="#d9d9d9" stroke-width="0.25">Май 2010</text>
<text transform="translate(123.3,405.3) rotate(-90)" text-anchor="end" font-size="11.5" fill="#d9d9d9" stroke="#d9d9d9" stroke-width="0.25">Июль 2010</text>
<text transform="translate(140.2,405.3) rotate(-90)" text-anchor="end" font-size="11.5" fill="#d9d9d9" stroke="#d9d9d9" stroke-width="0.25">Сентябрь 2010</text>
<text transform="translate(157.1,405.3) rotate(-90)" text-anchor="end" font-size="11.5" fill="#d9d9d9" stroke="#d9d9d9" stroke-width="0.25">Ноябрь 2010</text>
<text transform="translate(174.0,405.3) rotate(-90)" text-anchor="end" font-size="11.5" fill="#d9d9d9" stroke="#d9d9d9" stroke-width="0.25">Январь 2011</text>
<text transform="translate(190.9,405.3) rotate(-90)" text-anchor="end" font-size="11.5" fill="#d9d9d9" stroke="#d9d9d9" stroke-width="0.25">Март 2011</text>
<text transform="translate(207.8,405.3) rotate(-90)" text-anchor="end" font-size="11.5" fill="#d9d9d9" stroke="#d9d9d9" stroke-width="0.25">Май 2011</text>
<text transform="translate(224.7,405.3) rotate(-90)" text-anchor="end" font-size="11.5" fill="#d9d9d9" stroke="#d9d9d9" stroke-width="0.25">Июль 2011</text>
<text transform="translate(241.6,405.3) rotate(-90)" text-anchor="end" font-size="11.5" fill="#d9d9d9" stroke="#d9d9d9" stroke-width="0.25">Сентябрь 2011</text>
<text transform="translate(258.5,405.3) rotate(-90)" text-anchor="end" font-size="11.5" fill="#d9d9d9" stroke="#d9d9d9" stroke-width="0.25">Ноябрь 2011</text>
<text transform="translate(275.4,405.3) rotate(-90)" text-anchor="end" font-size="11.5" fill="#d9d9d9" stroke="#d9d9d9" stroke-width="0.25">Январь 2012</text>
<text transform="translate(292.3,405.3) rotate(-90)" text-anchor="end" font-size="11.5" fill="#d9d9d9" stroke="#d9d9d9" stroke-width="0.25">Март 2012</text>
<text transform="translate(309.2,405.3) rotate(-90)" text-anchor="end" font-size="11.5" fill="#d9d9d9" stroke="#d9d9d9" stroke-width="0.25">Май 2012</text>
<text transform="translate(326.1,405.3) rotate(-90)" text-anchor="end" font-size="11.5" fill="#d9d9d9" stroke="#d9d9d9" stroke-width="0.25">Июль 2012</text>
<text transform="translate(343.0,405.3) rotate(-90)" text-anchor="end" font-size="11.5" fill="#d9d9d9" stroke="#d9d9d9" stroke-width="0.25">Сентябрь 2012</text>
<text transform="translate(359.9,405.3) rotate(-90)" text-anchor="end" font-size="11.5" fill="#d9d9d9" stroke="#d9d9d9" stroke-width="0.25">Ноябрь 2012</text>
<text transform="translate(376.8,405.3) rotate(-90)" text-anchor="end" font-size="11.5" fill="#d9d9d9" stroke="#d9d9d9" stroke-width="0.25">Январь 2013</text>
<text transform="translate(393.7,405.3) rotate(-90)" text-anchor="end" font-size="11.5" fill="#d9d9d9" stroke="#d9d9d9" stroke-width="0.25">Март 2013</text>
<text transform="translate(410.6,405.3) rotate(-90)" text-anchor="end" font-size="11.5" fill="#d9d9d9" stroke="#d9d9d9" stroke-width="0.25">Май 2013</text>
<text transform="translate(427.5,405.3) rotate(-90)" text-anchor="end" font-size="11.5" fill="#d9d9d9" stroke="#d9d9d9" stroke-width="0.25">Июль 2013</text>
<text transform="translate(444.4,405.3) rotate(-90)" text-anchor="end" font-size="11.5" fill="#d9d9d9" stroke="#d9d9d9" stroke-width="0.25">Сентябрь 2013</text>
<text transform="translate(461.3,405.3) rotate(-90)" text-anchor="end" font-size="11.5" fill="#d9d9d9" stroke="#d9d9d9" stroke-width="0.25">Ноябрь 2013</text>
<text transform="translate(478.2,405.3) rotate(-90)" text-anchor="end" font-size="11.5" fill="#d9d9d9" stroke="#d9d9d9" stroke-width="0.25">Январь 2014</text>
<text transform="translate(495.2,405.3) rotate(-90)" text-anchor="end" font-size="11.5" fill="#d9d9d9" stroke="#d9d9d9" stroke-width="0.25">Март 2014</text>
<text transform="translate(512.1,405.3) rotate(-90)" text-anchor="end" font-size="11.5" fill="#d9d9d9" stroke="#d9d9d9" stroke-width="0.25">Май 2014</text>
<text transform="translate(529.0,405.3) rotate(-90)" text-anchor="end" font-size="11.5" fill="#d9d9d9" stroke="#d9d9d9" stroke-width="0.25">Июль 2014</text>
<text transform="translate(545.9,405.3) rotate(-90)" text-anchor="end" font-size="11.5" fill="#d9d9d9" stroke="#d9d9d9" stroke-width="0.25">Сентябрь 2014</text>
<text transform="translate(562.8,405.3) rotate(-90)" text-anchor="end" font-size="11.5" fill="#d9d9d9" stroke="#d9d9d9" stroke-width="0.25">Ноябрь 2014</text>
<text transform="translate(579.7,405.3) rotate(-90)" text-anchor="end" font-size="11.5" fill="#d9d9d9" stroke="#d9d9d9" stroke-width="0.25">Январь 2015</text>
<text transform="translate(596.6,405.3) rotate(-90)" text-anchor="end" font-size="11.5" fill="#d9d9d9" stroke="#d9d9d9" stroke-width="0.25">Март 2015</text>
<text transform="translate(613.5,405.3) rotate(-90)" text-anchor="end" font-size="11.5" fill="#d9d9d9" stroke="#d9d9d9" stroke-width="0.25">Май 2015</text>
<text transform="translate(630.4,405.3) rotate(-90)" text-anchor="end" font-size="11.5" fill="#d9d9d9" stroke="#d9d9d9" stroke-width="0.25">Июль 2015</text>
<text transform="translate(647.3,405.3) rotate(-90)" text-anchor="end" font-size="11.5" fill="#d9d9d9" stroke="#d9d9d9" stroke-width="0.25">Сентябрь 2015</text>
<text transform="translate(664.2,405.3) rotate(-90)" text-anchor="end" font-size="11.5" fill="#d9d9d9" stroke="#d9d9d9" stroke-width="0.25">Ноябрь 2015</text>
<text transform="translate(681.1,405.3) rotate(-90)" text-anchor="end" font-size="11.5" fill="#d9d9d9" stroke="#d9d9d9" stroke-width="0.25">Январь 2016</text>
<text transform="translate(698.0,405.3) rotate(-90)" text-anchor="end" font-size="11.5" fill="#d9d9d9" stroke="#d9d9d9" stroke-width="0.25">Март 2016</text>
<text transform="translate(714.9,405.3) rotate(-90)" text-anchor="end" font-size="11.5" fill="#d9d9d9" stroke="#d9d9d9" stroke-width="0.25">Май 2016</text>
<text transform="translate(731.8,405.3) rotate(-90)" text-anchor="end" font-size="11.5" fill="#d9d9d9" stroke="#d9d9d9" stroke-width="0.25">Июль 2016</text>
<text transform="translate(748.7,405.3) rotate(-90)" text-anchor="end" font-size="11.5" fill="#d9d9d9" stroke="#d9d9d9" stroke-width="0.25">Сентябрь 2016</text>
<text transform="translate(765.6,405.3) rotate(-90)" text-anchor="end" font-size="11.5" fill="#d9d9d9" stroke="#d9d9d9" stroke-width="0.25">Ноябрь 2016</text>
<text transform="translate(782.5,405.3) rotate(-90)" text-anchor="end" font-size="11.5" fill="#d9d9d9" stroke="#d9d9d9" stroke-width="0.25">Январь 2017</text>
<text x="207.5" y="41.3" font-size="15" textLength="363" lengthAdjust="spacingAndGlyphs" fill="#fafafa" stroke="#fafafa" stroke-width="0.25">Приток иностранного капитала, США, млрд долл.</text>
<line x1="521" x2="570" y1="78.1" y2="78.1" stroke="#ff0000" stroke-width="2.3"/>
<text x="577" y="83.1" font-size="11.2" textLength="190.7" lengthAdjust="spacingAndGlyphs" fill="#f4f4f4" stroke="#f4f4f4" stroke-width="0.35">Казначейские облигации и векселя</text>
<line x1="521" x2="570" y1="94.6" y2="94.6" stroke="#000000" stroke-width="2.3"/>
<text x="577" y="99.1" font-size="11.2" textLength="133.0" lengthAdjust="spacingAndGlyphs" fill="#f4f4f4" stroke="#f4f4f4" stroke-width="0.35">Облигации Гос. Агентств</text>
<line x1="521" x2="570" y1="112.2" y2="112.2" stroke="#2b3bff" stroke-width="2.3"/>
<text x="577" y="115.0" font-size="11.2" textLength="33.6" lengthAdjust="spacingAndGlyphs" fill="#f4f4f4" stroke="#f4f4f4" stroke-width="0.35">Акции</text>
<line x1="521" x2="570" y1="128.1" y2="128.1" stroke="#ffffff" stroke-width="2.3"/>
<text x="577" y="131.2" font-size="11.2" textLength="147.0" lengthAdjust="spacingAndGlyphs" fill="#f4f4f4" stroke="#f4f4f4" stroke-width="0.35">Корпоративные облигации</text>
<mask id="wmask" maskUnits="userSpaceOnUse" x="0" y="0" width="827" height="492"><rect x="0" y="0" width="827" height="492" fill="#fff"/><g fill="#000" filter="url(#thin)"><text x="23" y="466.8" font-size="37">[</text><text x="51.5" y="468.3" font-size="41.8" textLength="92" lengthAdjust="spacingAndGlyphs">www.</text><text x="146" y="468.3" font-size="41.8" textLength="160" lengthAdjust="spacingAndGlyphs">instaforex</text><text x="306" y="468.3" font-size="28" textLength="54" lengthAdjust="spacingAndGlyphs">.com</text><text x="367.5" y="468.8" font-size="26">]</text></g></mask>
<rect x="4" y="423" width="393" height="65.5" fill="rgba(224,64,64,0.4)" mask="url(#wmask)"/>
<g fill="rgba(236,240,240,0.66)" filter="url(#thin)"><text x="23" y="466.8" font-size="37">[</text><text x="51.5" y="468.3" font-size="41.8" textLength="92" lengthAdjust="spacingAndGlyphs">www.</text><text x="146" y="468.3" font-size="41.8" textLength="160" lengthAdjust="spacingAndGlyphs">instaforex</text><text x="306" y="468.3" font-size="28" textLength="54" lengthAdjust="spacingAndGlyphs">.com</text><text x="367.5" y="468.8" font-size="26">]</text></g>
</svg>
</body></html>
